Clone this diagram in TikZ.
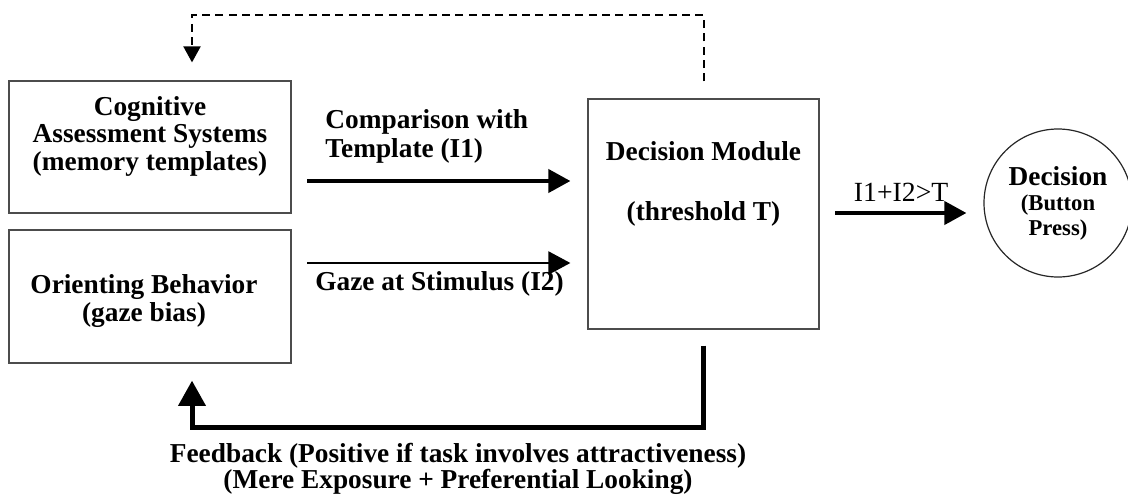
\documentclass[tikz,border=0pt]{standalone}
\usepackage{fontspec}
\setmainfont{Liberation Serif}
\usetikzlibrary{arrows.meta,positioning}

\begin{document}
\begin{tikzpicture}[x=0.75pt,y=-0.75pt,semithick]
		\tikzstyle{box}=[rectangle, draw=black!70, line width=0.9pt, inner sep=0pt]
		\tikzstyle{txt}=[font=\fontsize{20.5}{21}\selectfont\bfseries, inner sep=0pt]
		\tikzstyle{thick arrow}=[line width=3pt, -{Triangle[length=16.5pt,width=17.25pt]}]
		\tikzstyle{thin arrow}=[line width=1.7pt, -{Triangle[length=16.5pt,width=17.25pt]}]
		\useasboundingbox (0,0) rectangle (1128,496);
		
		\node[box, minimum width=211.5pt, minimum height=99pt] (cog) at (150,147) {};
		\node[txt, align=center, anchor=north, font=\fontsize{20.5}{20.6}\selectfont\bfseries] (cogtxt) at (150,96)
			{Cognitive\\Assessment Systems\\(memory templates)};
		\node[box, minimum width=211.5pt, minimum height=99.75pt] (ori) at (150,296.5) {};
		\node[txt, align=center, anchor=north] (oritxt) at (144,274)
			{Orienting Behavior\\(gaze bias)};
		\node[box, minimum width=173.25pt, minimum height=172.5pt] (dm) at (703.5,214) {};
		\node[txt, align=center, anchor=north] (dmtxt) at (703.5,141) {Decision Module\\[24pt](threshold T)};
		\node[circle, draw=black!85, line width=0.9pt, minimum size=111pt, inner sep=0pt, align=center,
			font=\fontsize{17}{18.75}\selectfont\bfseries] (dec) at (1058,203)
			{{\fontsize{20.5}{18.75}\selectfont Decision}\\(Button\\Press)};
		
		% inputs to the decision module
		\coordinate (c1) at (307,181);
		\coordinate (c2) at (307,263);
		\draw[thick arrow, shorten >=12.75pt] (c1) -- (c1 -| dm.west);
		\draw[thin arrow, shorten >=12.75pt] (c2) -- (c2 -| dm.west);
		\node[txt, align=left, anchor=north west, font=\fontsize{20.5}{21.75}\selectfont\bfseries] (lbl1) at (325,109) {Comparison with\\Template (I1)};
		\node[txt, anchor=base west] (lbl2) at (315,290) {Gaze at Stimulus (I2)};
		
		% output
		\coordinate (c3) at (819,213);
		\draw[thick arrow, shorten <=12pt, shorten >=12.75pt] (c3) -- (c3 -| dec.west)
			node[midway, above=7.5pt, font=\fontsize{20.8}{21}\selectfont, inner sep=0pt] (lbl3) {I1+I2>T};
		
		% dashed loop back
		\coordinate (fbtop) at (192,15);
		\draw[line width=1.5pt, dash pattern=on 6pt off 4pt, -{Triangle[length=12pt,width=12.75pt]}, shorten <=12.75pt, shorten >=13.5pt]
			(dm.north) |- (fbtop) -- (fbtop |- cog.north);
		
		% feedback
		\coordinate (fbbot) at (192,427);
		\draw[line width=3.75pt, -{Triangle[length=19pt,width=20pt]}, shorten <=12pt, shorten >=12.75pt]
			(dm.south) |- (fbbot) -- (fbbot |- ori.south);
		\node[txt, align=center, anchor=north, font=\fontsize{20.5}{19.5}\selectfont\bfseries] (fbtxt) at (458,443)
			{Feedback (Positive if task involves attractiveness)\\(Mere Exposure + Preferential Looking)};
		\end{tikzpicture}
\end{document}
